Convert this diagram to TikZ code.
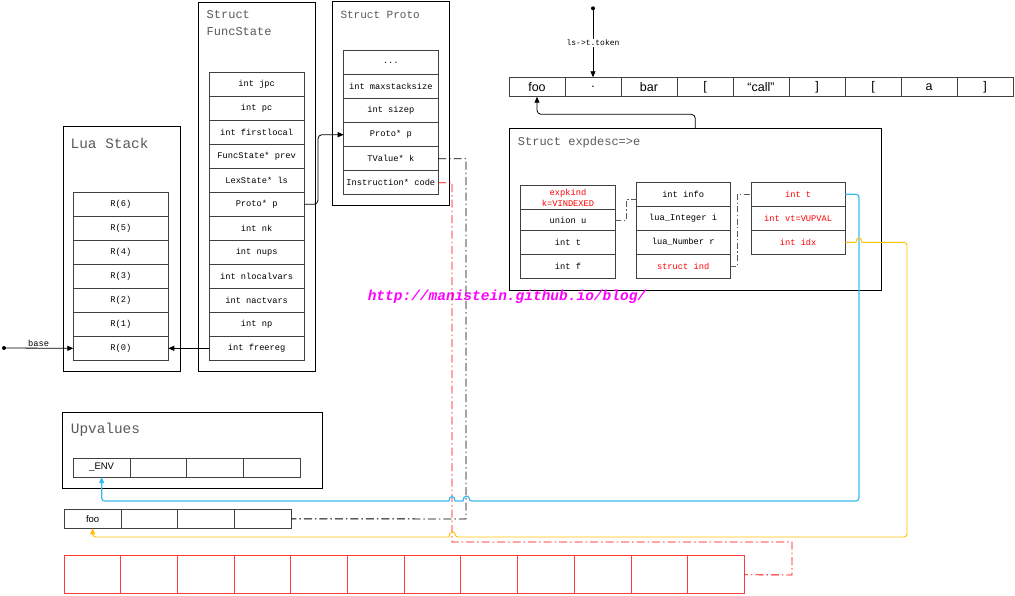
\documentclass[tikz,border=0pt]{standalone}
\usepackage{fontspec}
\newfontfamily\codefont{Liberation Mono}
\newfontfamily\tokfont{Liberation Sans}
\usetikzlibrary{arrows.meta, positioning, calc}
\definecolor{colTitle}{HTML}{595959}
\definecolor{colCell} {HTML}{404040}
\definecolor{colRed}  {HTML}{FF0000}
\definecolor{colMem}  {HTML}{FF3B3B}
\definecolor{colBlue} {HTML}{3CB8EE}
\definecolor{colOrange}{HTML}{FFC000}
\definecolor{colLink} {HTML}{595959}
\definecolor{colMark} {HTML}{FF00FF}
\tikzset{
  %% outer struct box
  frame/.style={draw=black, line width=0.8pt, anchor=north west,
                inner sep=0pt, outer sep=0pt},
  %% grey struct title
  title/.style={font=\codefont\fontsize{#1}{16.6}\selectfont,
                text=colTitle, inner sep=0pt},
  %% one field of a struct
  cell/.style={draw=colCell, line width=1pt, minimum width=#1,
               minimum height=24pt, inner sep=1pt, outer sep=0pt,
               font=\codefont\fontsize{8.7}{10.4}\selectfont},
  cell/.default=94.5pt,
  red/.style={text=colRed},
  %% token stream cell
  tok/.style={draw=colCell, line width=1pt, minimum width=56pt,
              minimum height=19.4pt, inner sep=0pt, outer sep=0pt,
              font=\tokfont\fontsize{12.5}{14}\selectfont},
  %% array slot
  slot/.style={draw=colCell, line width=1pt, minimum width=56.75pt,
               minimum height=#1, inner sep=0pt, outer sep=0pt,
               font=\tokfont\fontsize{9.5}{11}\selectfont},
  memcell/.style={draw=colMem, line width=1pt, minimum width=56.67pt,
                  minimum height=38pt, anchor=north west, outer sep=0pt},
  %% labels on connectors
  ann/.style={font=\codefont\fontsize{8.7}{10}\selectfont, inner sep=1pt},
  %% arrows
  arr/.style ={-{Triangle[length=6pt,width=5pt]}, line width=0.8pt},
  barr/.style={-{Triangle[length=6pt,width=5pt]}, line width=1.2pt,
               color=colBlue},
  oarr/.style={-{Triangle[length=6pt,width=5pt]}, line width=0.9pt,
               color=colOrange},
  ddot/.style={line width=0.9pt, dash pattern=on 8pt off 3pt on 1.5pt off 3pt},
  rdot/.style={line width=0.9pt, color=colRed,
               dash pattern=on 8pt off 3pt on 1.5pt off 3pt},
  ldot/.style={line width=1pt, color=colLink,
               dash pattern=on 6pt off 2.5pt on 1.2pt off 2.5pt}
}

\begin{document}
\begin{tikzpicture}[x=1pt, y=-1pt]
\useasboundingbox (0,0) rectangle (1015,595);

% ════════════════════════════════════════════════════════════
% LUA STACK
% ════════════════════════════════════════════════════════════
\node[frame, minimum width=117pt, minimum height=245pt] (luastack) at (63,126) {};
\node[title=14.4, anchor=west] at (70.5,143) {Lua Stack};

\node[cell=95pt, anchor=north west] (r6) at (73.3,192.3) {R(6)};
\node[cell=95pt, below=0pt of r6] (r5) {R(5)};
\node[cell=95pt, below=0pt of r5] (r4) {R(4)};
\node[cell=95pt, below=0pt of r4] (r3) {R(3)};
\node[cell=95pt, below=0pt of r3] (r2) {R(2)};
\node[cell=95pt, below=0pt of r2] (r1) {R(1)};
\node[cell=95pt, below=0pt of r1] (r0) {R(0)};

\coordinate (basedot) at (4,348);
\fill (basedot) circle (2pt);

% ════════════════════════════════════════════════════════════
% STRUCT FUNCSTATE
% ════════════════════════════════════════════════════════════
\node[frame, minimum width=117pt, minimum height=369pt] (funcstate) at (198.3,2) {};
\node[title=12, anchor=north west, align=left] at (206.5,10.5) {Struct\\FuncState};

\node[cell=94.7pt, anchor=north west] (jpc) at (209.3,72.3) {int jpc};
\node[cell=94.7pt, below=0pt of jpc]   (pc)    {int pc};
\node[cell=94.7pt, below=0pt of pc]    (first) {int firstlocal};
\node[cell=94.7pt, below=0pt of first] (prev)  {FuncState* prev};
\node[cell=94.7pt, below=0pt of prev]  (ls)    {LexState* ls};
\node[cell=94.7pt, below=0pt of ls]    (fsp)   {Proto* p};
\node[cell=94.7pt, below=0pt of fsp]   (nk)    {int nk};
\node[cell=94.7pt, below=0pt of nk]    (nups)  {int nups};
\node[cell=94.7pt, below=0pt of nups]  (nloc)  {int nlocalvars};
\node[cell=94.7pt, below=0pt of nloc]  (nact)  {int nactvars};
\node[cell=94.7pt, below=0pt of nact]  (np)    {int np};
\node[cell=94.7pt, below=0pt of np]    (freereg) {int freereg};

% ════════════════════════════════════════════════════════════
% STRUCT PROTO
% ════════════════════════════════════════════════════════════
\node[frame, minimum width=117pt, minimum height=204.4pt] (proto) at (332.3,1.3) {};
\node[title=11, anchor=west] at (340.3,14.7) {Struct Proto};

\node[cell=94.3pt, anchor=north west] (pdots) at (343.7,50.7) {...};
\node[cell=94.3pt, below=0pt of pdots] (pmax)  {int maxstacksize};
\node[cell=94.3pt, below=0pt of pmax]  (psize) {int sizep};
\node[cell=94.3pt, below=0pt of psize] (pp)    {Proto* p};
\node[cell=94.3pt, below=0pt of pp]    (pk)    {TValue* k};
\node[cell=94.3pt, below=0pt of pk]    (pcode) {Instruction* code};

% ════════════════════════════════════════════════════════════
% TOKEN STREAM
% ════════════════════════════════════════════════════════════
\node[tok, anchor=north west] (tok1) at (509,77.3) {foo};
\node[tok, right=0pt of tok1] (tok2) {.};
\node[tok, right=0pt of tok2] (tok3) {bar};
\node[tok, right=0pt of tok3] (tok4) {[};
\node[tok, right=0pt of tok4] (tok5) {“call”};
\node[tok, right=0pt of tok5] (tok6) {]};
\node[tok, right=0pt of tok6] (tok7) {[};
\node[tok, right=0pt of tok7] (tok8) {a};
\node[tok, right=0pt of tok8] (tok9) {]};

\coordinate[above=69pt of tok2.north] (tokdot);
\fill (tokdot) circle (2pt);

% ════════════════════════════════════════════════════════════
% STRUCT EXPDESC
% ════════════════════════════════════════════════════════════
\node[frame, minimum width=372pt, minimum height=161.7pt] (expdesc) at (509.3,128.3) {};
\node[title=12, anchor=west] at (517.7,142.7) {Struct expdesc=>e};

\node[cell=94.6pt, red, align=center, anchor=north west] (ekind) at (520.7,185.7)
     {expkind\\k=VINDEXED};
\node[cell=94.6pt, below=0pt of ekind, minimum height=21pt] (eu) {union u};
\node[cell=94.6pt, below=0pt of eu] (et) {int t};
\node[cell=94.6pt, below=0pt of et] (ef) {int f};

\node[cell=94.3pt, anchor=north west] (einfo) at (636,182.3) {int info};
\node[cell=94.3pt, below=0pt of einfo] (eival) {lua\_Integer i};
\node[cell=94.3pt, below=0pt of eival] (enval) {lua\_Number r};
\node[cell=94.3pt, red, below=0pt of enval] (eind) {struct ind};

\node[cell=94.3pt, red, anchor=north west] (vt) at (751,182.3) {int t};
\node[cell=94.3pt, red, below=0pt of vt]  (vvt)  {int vt=VUPVAL};
\node[cell=94.3pt, red, below=0pt of vvt] (vidx) {int idx};

% watermark
\node[font=\codefont\bfseries\itshape\fontsize{14.5}{16}\selectfont,
      text=colMark, inner sep=0pt] (wmark) at (507,297)
     {http://manistein.github.io/blog/};

% ════════════════════════════════════════════════════════════
% UPVALUES / LOCALS / CODE
% ════════════════════════════════════════════════════════════
\node[frame, minimum width=259.6pt, minimum height=75.6pt] (upvalues) at (62.7,412.7) {};
\node[title=14.4, anchor=west] at (70.7,430) {Upvalues};

\node[slot=18.7pt, anchor=north west] (uv1) at (73.3,458.3) {\_ENV};
\node[slot=18.7pt, right=0pt of uv1] (uv2) {};
\node[slot=18.7pt, right=0pt of uv2] (uv3) {};
\node[slot=18.7pt, right=0pt of uv3] (uv4) {};

\node[slot=19pt, anchor=north west] (fr1) at (64.3,509.3) {foo};
\node[slot=19pt, right=0pt of fr1] (fr2) {};
\node[slot=19pt, right=0pt of fr2] (fr3) {};
\node[slot=19pt, right=0pt of fr3] (fr4) {};

\foreach \i in {1,...,12}
  \node[memcell] (m\i) at ({64.3+56.67*(\i-1)},555.7) {};

% ════════════════════════════════════════════════════════════
% ARROWS
% ════════════════════════════════════════════════════════════
\draw[arr] (basedot) -- node[ann, above]{base} (r0.west);
\draw[arr] (freereg.west) -- (r0.east);
\draw[arr, rounded corners=4pt] (fsp.east) -- ++(14,0) |- (pp.west);

\draw[arr] (tokdot) -- node[ann, fill=white, font=\codefont\fontsize{8}{9}\selectfont]
                          {ls->t.token} (tok2.north);
\draw[arr, rounded corners=4pt] (expdesc.north) -- ++(0,-14) -| (tok1.south);

% links inside expdesc
\draw[ldot] (eu.east) -- ++(11,0) |- ($(einfo.west)+(0,5)$);
\draw[ldot] (eind.east) -- ++(7,0) |- (vt.west);

% Proto k and code
\coordinate (kdrop) at (466,519);
\draw[ddot] (pk.east) -| (kdrop) -- (fr4.east);

\coordinate (codedrop) at (452,542);
\coordinate (codeturn) at (792,575);
\draw[rdot] (pcode.east) -| (codedrop) -| (codeturn) -- (m12.east);

% upvalue index back to _ENV
\coordinate (bluedrop) at (859,501);
\draw[barr] (vt.east) [rounded corners=3pt] -| (bluedrop) -- (469,501)
     [sharp corners] .. controls (469,495) and (463,495) .. (463,501)
     -- (455,501) .. controls (455,495) and (449,495) .. (449,501)
     [rounded corners=3pt] -| (uv1.south);

% idx back to local foo
\coordinate (orangedrop) at (907,537);
\draw[oarr] (vidx.east) -- (856,242.3)
     .. controls (856,236.5) and (862,236.5) .. (862,242.3)
     [rounded corners=3pt] -| (orangedrop) -- (455,537)
     [sharp corners] .. controls (455,531) and (449,531) .. (449,537)
     [rounded corners=3pt] -| (fr1.south);

\end{tikzpicture}
\end{document}
